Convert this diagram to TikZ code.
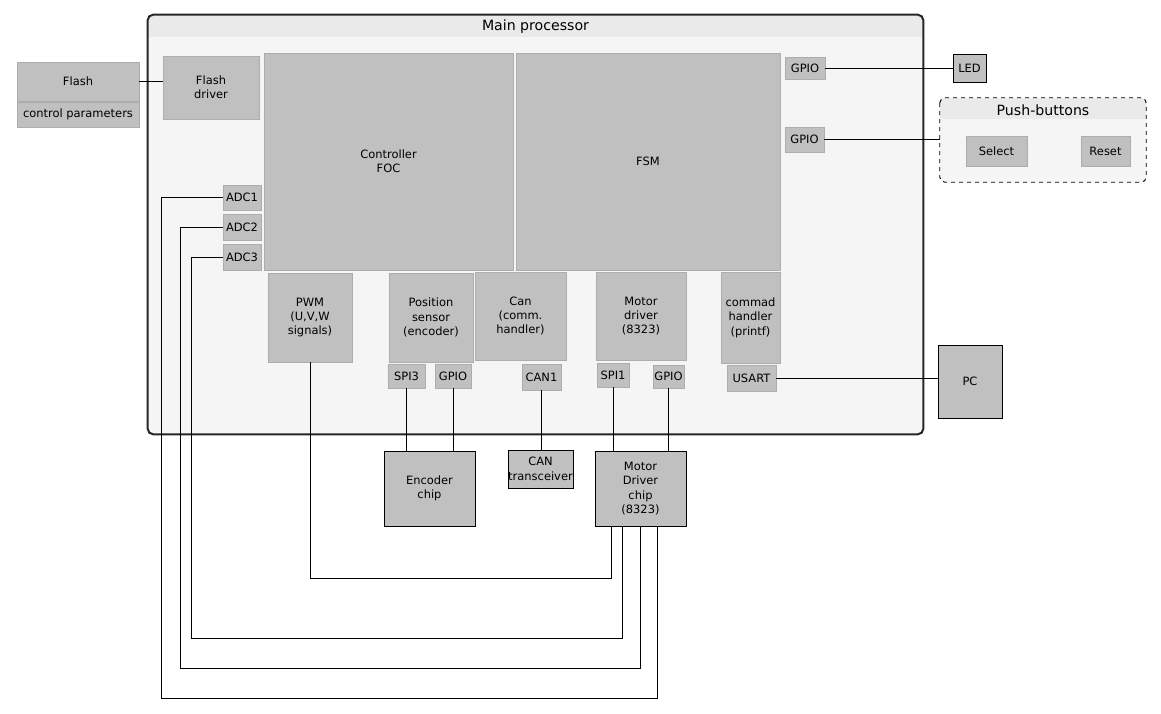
\documentclass[tikz,border=0pt]{standalone}
\usepackage{fontspec}
\setmainfont{DejaVu Sans}
\usetikzlibrary{calc}
\definecolor{boxgray}{HTML}{C0C0C0}
\definecolor{boxedge}{HTML}{ADADAD}
\definecolor{framebg}{HTML}{F5F5F5}
\definecolor{titlebg}{HTML}{EAEAEA}
\tikzset{
  blk/.style={fill=boxgray, draw=boxedge, line width=0.5pt, inner sep=0pt, align=center,
    font=\fontsize{8.6}{10.8}\selectfont},
  ext/.style={blk, draw=black, line width=0.6pt},
  wire/.style={draw=black, line width=0.6pt},
  ttl/.style={inner sep=0pt, font=\fontsize{10.6}{12}\selectfont},
}
\newcommand{\bx}[7][blk]{\node[#1, minimum width={(#5-#3)*0.75pt}, minimum height={(#6-#4)*0.75pt}] (#2) at ({(#3+#5)/2},{(#4+#6)/2}) {#7};}
\begin{document}
\begin{tikzpicture}[x=0.75pt,y=-0.75pt]
\useasboundingbox (0,0) rectangle (1161,714);
% main processor frame
\node[fill=framebg, rounded corners=4pt, inner sep=0pt, minimum width={(923-148)*0.75pt}, minimum height={(434-15)*0.75pt}] (main) at ({(148+923)/2},{(15+434)/2}) {};
\begin{scope}
  \clip[rounded corners=4pt] (main.north west) rectangle (main.south east);
  \fill[titlebg] (148,15) rectangle (923,37);
\end{scope}
\draw[line width=1.5pt, draw=black!85, rounded corners=4pt] (main.north west) rectangle (main.south east);
\node[ttl] (maintitle) at (535.5,27) {Main processor};
% push-buttons group
\node[fill=framebg, rounded corners=4pt, inner sep=0pt, minimum width={(1146-940)*0.75pt}, minimum height={(182-98)*0.75pt}] (pb) at ({(940+1146)/2},{(98+182)/2}) {};
\begin{scope}
  \clip[rounded corners=4pt] (pb.north west) rectangle (pb.south east);
  \fill[titlebg] (940,98) rectangle (1146,119);
\end{scope}
\draw[line width=0.7pt, dashed, rounded corners=4pt] (pb.north west) rectangle (pb.south east);
\node[ttl] (pbtitle) at (1043,110.5) {Push-buttons};
\bx{select}{966}{136}{1027}{166}{Select}
\bx{reset}{1081}{136}{1130}{166}{Reset}
% flash
\bx{flash}{17}{62}{139}{101}{Flash}
\bx{cparam}{17}{102}{139}{127}{control parameters}
\bx{flashdrv}{163}{56}{259}{119}{Flash\\driver}
\bx{foc}{264}{53}{513}{270}{Controller\\FOC}
\bx{fsm}{516}{53}{780}{270}{FSM}
\bx{gpioA}{785}{57}{825}{79}{GPIO}
\bx{gpioB}{785}{127}{824}{152}{GPIO}
\bx[ext]{led}{953}{54}{986}{82}{LED}
\bx{adc1}{223}{185}{261}{210}{ADC1}
\bx{adc2}{223}{214}{261}{240}{ADC2}
\bx{adc3}{223}{244}{261}{270}{ADC3}
\bx{pwm}{268}{273}{352}{362}{PWM\\(U,V,W\\signals)}
\bx{pos}{389}{273}{473}{362}{Position\\sensor\\(encoder)}
\bx{can}{475}{272}{566}{360}{Can\\(comm.\\handler)}
\bx{mdrv}{596}{272}{686}{360}{Motor\\driver\\(8323)}
\bx{cmd}{721}{272}{780}{363}{commad\\handler\\(printf)}
\bx{spi3}{388}{364}{425}{388}{SPI3}
\bx{gpioC}{435}{364}{471}{388}{GPIO}
\bx{can1}{522}{364}{561}{390}{CAN1}
\bx{spi1}{597}{363}{629}{387}{SPI1}
\bx{gpioD}{653}{365}{684}{388}{GPIO}
\bx{usart}{727}{365}{776}{391}{USART}
\bx[ext]{enc}{384}{451}{475}{526}{Encoder\\chip}
\bx[ext]{cantr}{508}{450}{573}{488}{CAN\\transceiver}
\bx[ext]{mchip}{595}{451}{686}{526}{Motor\\Driver\\chip\\(8323)}
\bx[ext]{pc}{938}{345}{1002}{418}{PC}
% connectors
\draw[wire] (flash.east) -- (flash.east -| flashdrv.west);
\draw[wire] (gpioA.east) -- (gpioA.east -| led.west);
\draw[wire] (gpioB.east) -- (gpioB.east -| pb.west);
\draw[wire] (usart.east) -- (usart.east -| pc.west);
\draw[wire] (spi3.south) -- (spi3.south |- enc.north);
\draw[wire] (gpioC.south) -- (gpioC.south |- enc.north);
\draw[wire] (can1.south) -- (can1.south |- cantr.north);
\draw[wire] (spi1.south) -- (spi1.south |- mchip.north);
\draw[wire] (gpioD.south) -- (gpioD.south |- mchip.north);
\coordinate (w1) at (611,578);
\coordinate (w2l) at (191,638);
\coordinate (w2r) at (622,638);
\coordinate (w3l) at (180,668);
\coordinate (w3r) at (640,668);
\coordinate (w4l) at (161,698);
\coordinate (w4r) at (657,698);
\draw[wire] (pwm.south) |- (w1) -- (w1 |- mchip.south);
\draw[wire] (adc3.west) -| (w2l) -- (w2r) -- (w2r |- mchip.south);
\draw[wire] (adc2.west) -| (w3l) -- (w3r) -- (w3r |- mchip.south);
\draw[wire] (adc1.west) -| (w4l) -- (w4r) -- (w4r |- mchip.south);
\end{tikzpicture}
\end{document}
